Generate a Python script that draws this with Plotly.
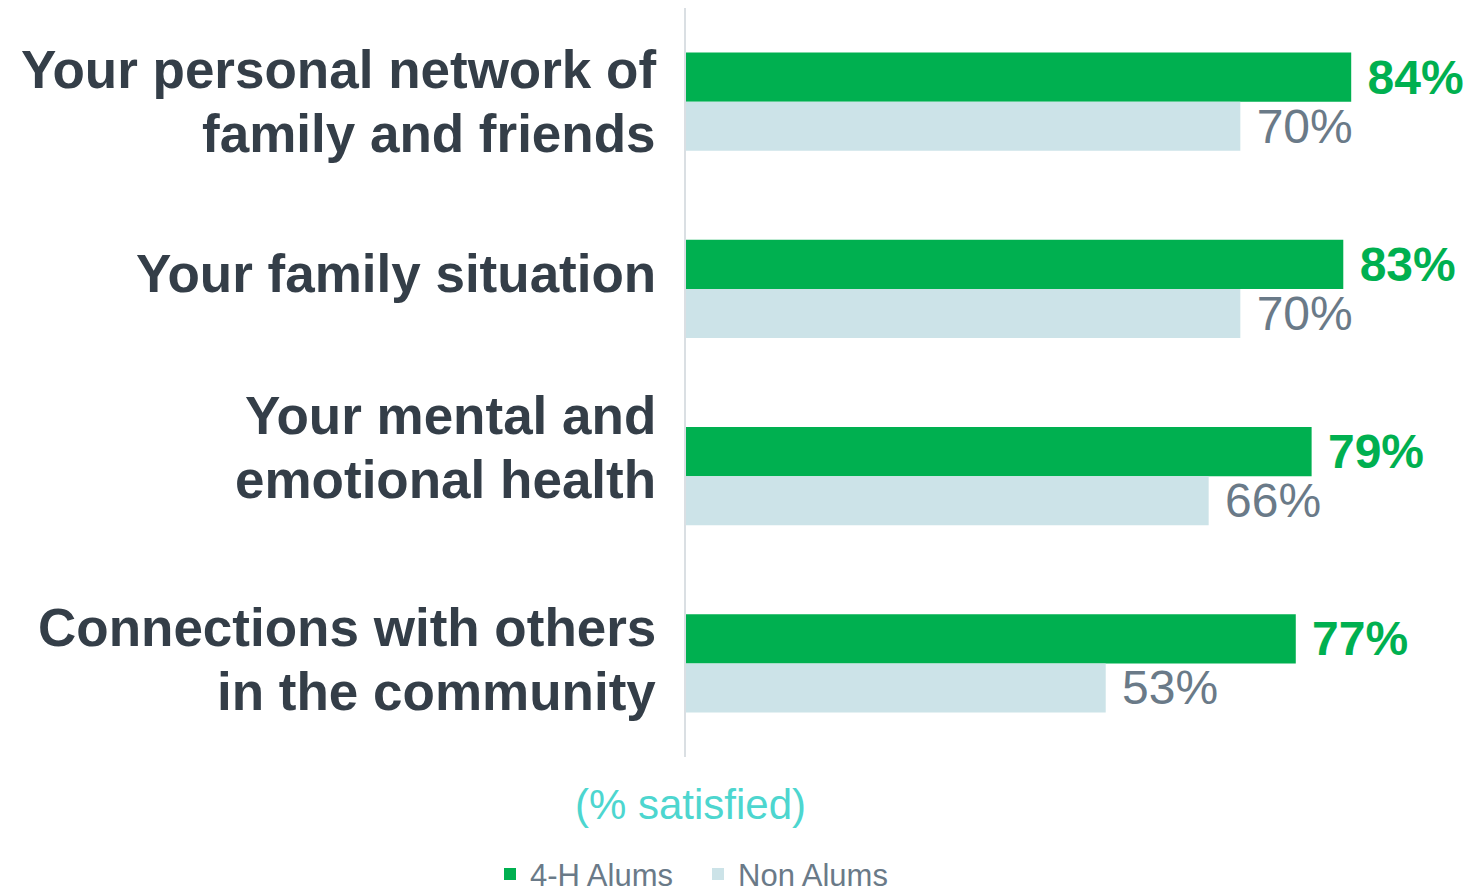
import plotly.graph_objects as go

# Survey areas and share satisfied (%) for each group
categories = [
    "Your personal network of<br>family and friends",
    "Your family situation",
    "Your mental and<br>emotional health",
    "Connections with others<br>in the community",
]
alums = [84, 83, 79, 77]
non_alums = [70, 70, 66, 53]
series_names = ["4-H Alums", "Non Alums"]

GREEN = "#00B050"
LIGHT = "#CCE3E8"
LABEL_GREY = "#6A7A88"
DARK = "#343E48"
TEAL = "#4DD6CF"
FONT = "Liberation Sans, Arial, sans-serif"

fig = go.Figure()
fig.add_trace(go.Bar(
    y=categories, x=alums, orientation="h", name=series_names[0],
    marker=dict(color=GREEN, line=dict(width=0)),
    texttemplate=" %{x}%", textposition="outside", cliponaxis=False,
    constraintext="none",
    textfont=dict(family=FONT, size=48, color=GREEN, weight="bold"),
))
fig.add_trace(go.Bar(
    y=categories, x=non_alums, orientation="h", name=series_names[1],
    marker=dict(color=LIGHT, line=dict(width=0)),
    texttemplate=" %{x}%", textposition="outside", cliponaxis=False,
    constraintext="none",
    textfont=dict(family=FONT, size=48, color=LABEL_GREY),
))

# Category labels, right-aligned left of the bars, one annotation per line
LINE_GAP = 64
block_offsets = [0, -15, -29, -3.5]  # px, downward, per category block
for cat, off in zip(categories, block_offsets):
    lines = cat.split("<br>")
    n = len(lines)
    for i, line in enumerate(lines):
        dy = off + (i - (n - 1) / 2) * LINE_GAP
        fig.add_annotation(
            x=0, xref="paper", xanchor="right", xshift=-28,
            y=cat, yref="y", yanchor="middle", yshift=-dy,
            text=line, showarrow=False, align="right",
            font=dict(family=FONT, size=53, color=DARK, weight="bold"),
        )

fig.add_annotation(
    x=0.006, xref="paper", xanchor="center",
    y=-0.064, yref="paper", yanchor="middle",
    text="(% satisfied)", showarrow=False,
    font=dict(family=FONT, size=42, color=TEAL),
)

fig.update_layout(
    width=1471, height=894,
    margin=dict(l=686, r=1, t=8, b=137),
    paper_bgcolor="white", plot_bgcolor="white",
    barmode="group", bargap=0.476, bargroupgap=0,
    showlegend=True,
    legend=dict(
        orientation="h", x=-0.25, xanchor="left",
        y=0.022, yref="container", yanchor="middle",
        font=dict(family=FONT, size=31, color=LABEL_GREY),
        itemwidth=30, entrywidth=163, traceorder="normal",
    ),
    xaxis=dict(range=[0, 99], showgrid=False, zeroline=False,
               showticklabels=False, showline=False, fixedrange=True),
    yaxis=dict(range=[3.5, -0.5], showgrid=False, zeroline=False,
               showticklabels=False, showline=True, linecolor="#DADFE3",
               linewidth=2, ticks=""),
)

fig.write_html("out.html")
